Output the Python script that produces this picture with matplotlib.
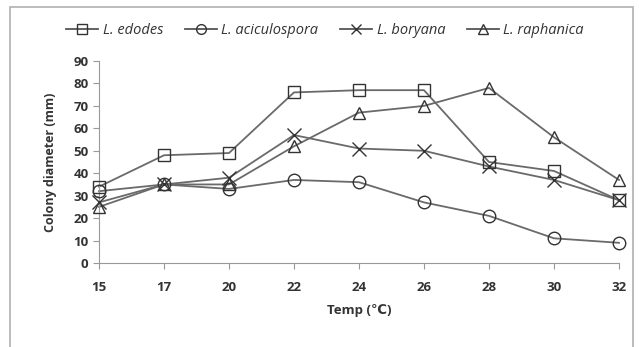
import matplotlib
matplotlib.use("Agg")
import matplotlib.pyplot as plt
from matplotlib.patches import Rectangle
from matplotlib.lines import Line2D

temps = ["15", "17", "20", "22", "24", "26", "28", "30", "32"]
edodes = [34, 48, 49, 76, 77, 77, 45, 41, 28]
aciculospora = [32, 35, 33, 37, 36, 27, 21, 11, 9]
boryana = [27, 35, 38, 57, 51, 50, 43, 37, 28]
raphanica = [25, 35, 35, 52, 67, 70, 78, 56, 37]

series = [
    ("L. edodes", edodes, "s"),
    ("L. aciculospora", aciculospora, "o"),
    ("L. boryana", boryana, "x"),
    ("L. raphanica", raphanica, "^"),
]

plt.rcParams["font.family"] = ["Open Sans", "DejaVu Sans"]

fig = plt.figure(figsize=(6.39, 3.47), dpi=100)
fig.patches.append(Rectangle((10 / 639, -0.1), 623 / 639, 1.08, transform=fig.transFigure,
                             fill=False, edgecolor="#b0b0b0", linewidth=1.2))
ax = fig.add_axes([99 / 639, 1 - 263 / 347, 520 / 639, 202 / 347])

x = list(range(len(temps)))
handles = []
for name, vals, m in series:
    ax.plot(x, vals, color="#6a6a6a", linewidth=1.3, zorder=2, clip_on=False)
    ax.plot(x, vals, linestyle="none", marker=m, markersize=9 if m != "x" else 10,
            markerfacecolor="none", markeredgecolor="#333333", markeredgewidth=1.0,
            zorder=3, clip_on=False)
    handles.append(Line2D([0], [0], color="#555555", linewidth=1.3, marker=m,
                          markersize=7, markerfacecolor="none",
                          markeredgecolor="#333333", markeredgewidth=1.0))

ax.set_xlim(0, 8)
ax.set_ylim(0, 90)
ax.set_yticks(range(0, 91, 10))
ax.set_xticks(x)
ax.set_xticklabels(temps)
for s in ["top", "right"]:
    ax.spines[s].set_visible(False)
for s in ["left", "bottom"]:
    ax.spines[s].set_color("#999999")
ax.tick_params(axis="both", colors="#999999", labelcolor="#333333", labelsize=9.5, length=4)
ax.tick_params(axis="x", pad=9)
for lbl in ax.get_xticklabels() + ax.get_yticklabels():
    lbl.set_fontweight("bold")

ax.set_xlabel("Temp (\u2103)", fontsize=9.5, fontweight="bold", color="#333333", labelpad=7)
ax.set_ylabel("Colony diameter (mm)", fontsize=9, fontweight="bold", color="#333333", labelpad=12)

leg = fig.legend(handles, [s[0] for s in series], loc="center", bbox_to_anchor=(325 / 639, 1 - 31 / 347),
                 ncol=4, frameon=False, fontsize=10.5, handlelength=2.2, columnspacing=1.5,
                 handletextpad=0.3)
for t in leg.get_texts():
    t.set_fontstyle("italic")
    t.set_color("#333333")

fig.savefig("out.png", dpi=100)
